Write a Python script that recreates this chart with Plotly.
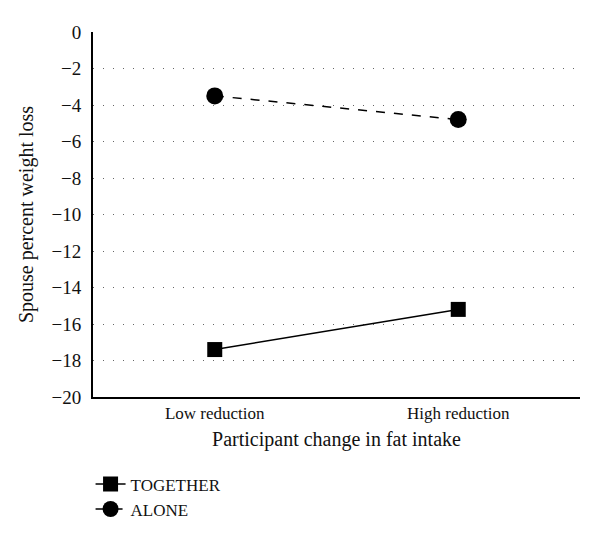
import plotly.graph_objects as go

categories = ["Low reduction", "High reduction"]
together = [-17.4, -15.2]
alone = [-3.5, -4.8]

font = "Liberation Serif, Times New Roman, serif"

fig = go.Figure()
fig.add_trace(go.Scatter(
    x=categories, y=together, name="TOGETHER", mode="lines+markers",
    line=dict(color="black", width=1.5),
    marker=dict(symbol="square", size=15, color="black"),
))
fig.add_trace(go.Scatter(
    x=categories, y=alone, name="ALONE", mode="lines+markers",
    line=dict(color="black", width=1.5, dash="dash"),
    marker=dict(symbol="circle", size=17, color="black"),
))

# page body has an 8px margin, so the figure is sized/offset to compensate
fig.update_layout(
    width=592, height=533,
    margin=dict(l=85, r=20, t=24, b=144),
    paper_bgcolor="white", plot_bgcolor="white",
    font=dict(family=font, size=17, color="#111"),
    showlegend=True,
    legend=dict(x=-0.005, y=-0.19, xanchor="left", yanchor="top",
                font=dict(size=17), itemwidth=30, tracegroupgap=0),
)
fig.update_xaxes(
    type="category", range=[-0.5, 1.5],
    showline=True, linecolor="black", linewidth=2,
    showgrid=False, ticks="",
    title=dict(text="Participant change in fat intake", standoff=10),
)
fig.update_yaxes(
    range=[-20, 0], dtick=2,
    showline=True, linecolor="black", linewidth=2,
    showgrid=True, gridcolor="#666", griddash="1px,9px", gridwidth=1.2,
    zeroline=False, ticks="", ticklabelstandoff=6,
    tickfont=dict(size=19),
    title=dict(text="Spouse percent weight loss", standoff=12),
)

fig.write_html("out.html")
